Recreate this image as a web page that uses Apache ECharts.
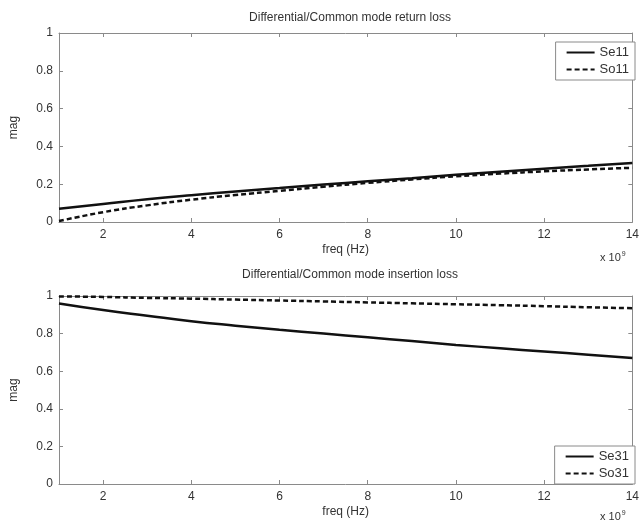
<!DOCTYPE html>
<html>
<head>
<meta charset="utf-8">
<script src="https://cdn.jsdelivr.net/npm/echarts@6/dist/echarts.min.js"></script>
<style>
  html, body { margin: 0; padding: 0; background: #fff; }
  #main { width: 642px; height: 525px; }
</style>
</head>
<body>
<div id="main"></div>
<script>
// frequency in units of 1e9 Hz
var freq = [1, 2, 3, 4, 5, 6, 7, 8, 9, 10, 11, 12, 13, 14];
var xTicks = [2, 4, 6, 8, 10, 12, 14];

// return loss
var se11 = [0.07, 0.095, 0.12, 0.142, 0.162, 0.18, 0.198, 0.215, 0.232, 0.25, 0.266, 0.282, 0.297, 0.312];
var so11 = [0.005, 0.052, 0.088, 0.118, 0.143, 0.165, 0.187, 0.207, 0.225, 0.242, 0.256, 0.268, 0.278, 0.287];

// insertion loss
var se31 = [0.96, 0.925, 0.895, 0.866, 0.842, 0.82, 0.8, 0.78, 0.76, 0.74, 0.722, 0.705, 0.688, 0.67];
var so31 = [0.998, 0.995, 0.99, 0.986, 0.981, 0.976, 0.971, 0.966, 0.961, 0.956, 0.951, 0.946, 0.94, 0.935];

var titles = ['Differential/Common mode return loss', 'Differential/Common mode insertion loss'];

var axisGray = '#8a8a8a';
var textGray = '#333';
var font = 'Liberation Sans, Arial, sans-serif';

function pairs(ys) {
    return freq.map(function (f, i) { return [f, ys[i]]; });
}

function xAxisFor(gi, pos) {
    var main = pos === 'bottom';
    return {
        type: 'value', gridIndex: gi, position: pos, min: 1, max: 14,
        name: main ? 'freq (Hz)' : '', nameLocation: 'middle', nameGap: 22,
        nameTextStyle: { color: textGray, fontSize: 12, fontFamily: font },
        axisLine: { show: true, onZero: false, lineStyle: { color: axisGray, width: 1 } },
        axisTick: { show: true, inside: true, length: 4, customValues: xTicks, lineStyle: { color: axisGray } },
        axisLabel: { show: main, customValues: xTicks, color: textGray, fontSize: 12, fontFamily: font, margin: 7 },
        splitLine: { show: false }
    };
}

function yAxisFor(gi, pos) {
    var main = pos === 'left';
    return {
        type: 'value', gridIndex: gi, position: pos, min: 0, max: 1, interval: 0.2,
        name: main ? 'mag' : '', nameLocation: 'middle', nameGap: 39,
        nameTextStyle: { color: textGray, fontSize: 12, fontFamily: font },
        axisLine: { show: true, onZero: false, lineStyle: { color: axisGray, width: 1 } },
        axisTick: { show: true, inside: true, length: 4, lineStyle: { color: axisGray } },
        axisLabel: { show: main, color: textGray, fontSize: 12, fontFamily: font, margin: 6 },
        splitLine: { show: false }
    };
}

function line(name, ys, xi, yi, dashed) {
    return {
        name: name, type: 'line', xAxisIndex: xi, yAxisIndex: yi,
        data: pairs(ys), smooth: true, showSymbol: false, symbol: 'none',
        lineStyle: { color: '#111', width: 2.5, type: dashed ? [5, 3] : 'solid' },
        itemStyle: { color: '#111' }
    };
}

function legendAt(top, names) {
    return {
        data: names, orient: 'vertical', right: 7, top: top,
        itemWidth: 28, itemHeight: 10, itemGap: 4,
        padding: [4, 6, 4, 10],
        itemStyle: { opacity: 0 },
        backgroundColor: '#fff', borderColor: axisGray, borderWidth: 1,
        textStyle: { color: textGray, fontSize: 13, fontFamily: font }
    };
}

var myChart = echarts.init(document.getElementById('main'));
myChart.setOption({
    animation: false,
    backgroundColor: '#fff',
    title: titles.map(function (t, i) {
        return {
            text: t, left: 345, top: i === 0 ? 7 : 264, textAlign: 'center',
            textStyle: { color: textGray, fontSize: 12, fontWeight: 'normal', fontFamily: font }
        };
    }),
    legend: [legendAt(42, ['Se11', 'So11']), legendAt(446, ['Se31', 'So31'])],
    grid: [
        { left: 57, right: 8, top: 33, height: 189 },
        { left: 57, right: 8, top: 296, height: 188 }
    ],
    xAxis: [xAxisFor(0, 'bottom'), xAxisFor(0, 'top'), xAxisFor(1, 'bottom'), xAxisFor(1, 'top')],
    yAxis: [yAxisFor(0, 'left'), yAxisFor(0, 'right'), yAxisFor(1, 'left'), yAxisFor(1, 'right')],
    graphic: [251, 510].map(function (y) {
        return {
            type: 'text', left: 600, top: y,
            style: {
                text: '{a|x 10}{b|9}',
                rich: {
                    a: { fontSize: 11, fill: textGray, fontFamily: font },
                    b: { fontSize: 7, fill: textGray, fontFamily: font, verticalAlign: 'top', padding: [0, 0, 6, 1] }
                }
            }
        };
    }),
    series: [
        line('Se11', se11, 0, 0, false),
        line('So11', so11, 0, 0, true),
        line('Se31', se31, 2, 2, false),
        line('So31', so31, 2, 2, true)
    ]
});
</script>
</body>
</html>
